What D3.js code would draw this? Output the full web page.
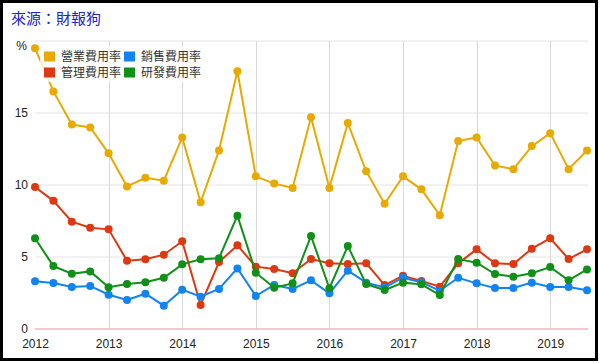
<!DOCTYPE html>
<html>
<head>
<meta charset="utf-8">
<script src="https://cdn.jsdelivr.net/npm/d3@7"></script>
<style>
  body { margin: 0; background: #fff; }
  svg { display: block; font-family: "Liberation Sans", Arial, sans-serif; }
</style>
</head>
<body>
<div id="chart"></div>
<script>
// quarterly points, 2012 Q1 .. 2019 Q3
const quarters = d3.range(31).map(i => 2012 + i / 4);
const yearTicks = [2012, 2013, 2014, 2015, 2016, 2017, 2018, 2019];
const yTicks = [0, 5, 10, 15];

const opRate = [19.5, 16.5, 14.2, 14.0, 12.2, 9.9, 10.5, 10.3, 13.3, 8.8, 12.4, 17.9,
  10.6, 10.1, 9.8, 14.7, 9.8, 14.3, 10.95, 8.7, 10.6, 9.7, 7.9, 13.05,
  13.3, 11.35, 11.1, 12.7, 13.6, 11.1, 12.4];
const mgmtRate = [9.86, 8.9, 7.45, 7.03, 6.92, 4.74, 4.84, 5.16, 6.09, 1.67, 4.65, 5.81,
  4.33, 4.17, 3.87, 4.86, 4.56, 4.51, 4.56, 3.05, 3.7, 3.33, 2.94, 4.56,
  5.53, 4.56, 4.51, 5.58, 6.3, 4.86, 5.53];
const salesRate = [3.31, 3.19, 2.92, 2.99, 2.38, 2.01, 2.45, 1.62, 2.73, 2.24, 2.78, 4.21,
  2.29, 3.06, 2.78, 3.38, 2.48, 4.05, 3.22, 2.89, 3.56, 3.24, 2.66, 3.56,
  3.17, 2.85, 2.85, 3.22, 2.92, 2.92, 2.69];
const rdRate = [6.3, 4.37, 3.84, 4.0, 2.9, 3.12, 3.24, 3.56, 4.49, 4.84, 4.91, 7.87,
  3.91, 2.87, 3.17, 6.46, 2.83, 5.76, 3.12, 2.7, 3.22, 3.1, 2.36, 4.86,
  4.6, 3.82, 3.63, 3.87, 4.3, 3.38, 4.14];

const series = [
  { name: '營業費用率', color: '#e8a900', values: opRate },
  { name: '管理費用率', color: '#dc3912', values: mgmtRate },
  { name: '銷售費用率', color: '#1283f2', values: salesRate },
  { name: '研發費用率', color: '#109018', values: rdRate }
];

const W = 600, H = 363;
const svg = d3.select('#chart').append('svg')
  .attr('width', W).attr('height', H);

svg.append('rect').attr('x', 1.5).attr('y', 1.5)
  .attr('width', W - 5).attr('height', H - 5)
  .attr('fill', '#fff').attr('stroke', '#000').attr('stroke-width', 3);

svg.append('text').attr('x', 11).attr('y', 24)
  .attr('fill', '#2323c8').attr('font-size', 15)
  .attr('font-family', '"Noto Sans CJK TC", sans-serif')
  .text('來源：財報狗');

const x = d3.scaleLinear().domain([2012, 2019.5]).range([35, 587]);
const y = d3.scaleLinear().domain([0, 20]).range([329, 41]);

// grid
const g = svg.append('g');
g.selectAll('.hg').data([5, 10, 15, 20]).join('line')
  .attr('x1', 35).attr('x2', 588)
  .attr('y1', d => y(d)).attr('y2', d => y(d))
  .attr('stroke', '#e4e4e4').attr('stroke-width', 1);
g.selectAll('.vg').data(yearTicks.slice(1)).join('line')
  .attr('x1', d => Math.round(x(d)) + 0.5).attr('x2', d => Math.round(x(d)) + 0.5)
  .attr('y1', y(20)).attr('y2', y(0))
  .attr('stroke', '#d8d8d8').attr('stroke-width', 1);
g.append('line').attr('x1', 35).attr('x2', 588)
  .attr('y1', y(0)).attr('y2', y(0))
  .attr('stroke', '#f4b6c2').attr('stroke-width', 1.5);

// axes
const xAxis = svg.append('g').attr('transform', `translate(0,${y(0) + 7})`)
  .call(d3.axisBottom(x).tickValues(yearTicks).tickFormat(d3.format('d')).tickSize(0));
xAxis.select('.domain').remove();
xAxis.selectAll('text').attr('font-size', 12).attr('fill', '#222')
  .attr('font-family', '"Liberation Sans", Arial, sans-serif');

const yAxis = svg.append('g').attr('transform', 'translate(28,0)')
  .call(d3.axisLeft(y).tickValues(yTicks).tickSize(0).tickPadding(0));
yAxis.select('.domain').remove();
yAxis.selectAll('text').attr('font-size', 12).attr('fill', '#222')
  .attr('font-family', '"Liberation Sans", Arial, sans-serif');

svg.append('text').attr('x', 27).attr('y', 50).attr('text-anchor', 'end')
  .attr('font-size', 12).attr('fill', '#222').text('%');

// lines
const line = d3.line().x((d, i) => x(quarters[i])).y(d => y(d));
series.forEach(s => {
  const sg = svg.append('g');
  sg.append('path').datum(s.values)
    .attr('d', line).attr('fill', 'none')
    .attr('stroke', s.color).attr('stroke-width', 2);
  sg.selectAll('circle').data(s.values).join('circle')
    .attr('cx', (d, i) => x(quarters[i])).attr('cy', d => y(d))
    .attr('r', 4).attr('fill', s.color);
});

// legend
const legend = svg.append('g');
legend.append('rect').attr('x', 40).attr('y', 46).attr('width', 162).attr('height', 36)
  .attr('fill', '#fff').attr('fill-opacity', 0.75);
const legendPos = [[44, 56.5], [44, 72.5], [124, 56.5], [124, 72.5]];
series.forEach((s, i) => {
  const [lx, ly] = legendPos[i];
  legend.append('rect').attr('x', lx).attr('y', ly - 5).attr('width', 11).attr('height', 10)
    .attr('fill', s.color);
  legend.append('text').attr('x', lx + 17).attr('y', ly + 4.5)
    .attr('font-size', 12).attr('fill', '#333')
    .attr('font-family', '"Noto Sans CJK TC", sans-serif')
    .text(s.name);
});
</script>
</body>
</html>
